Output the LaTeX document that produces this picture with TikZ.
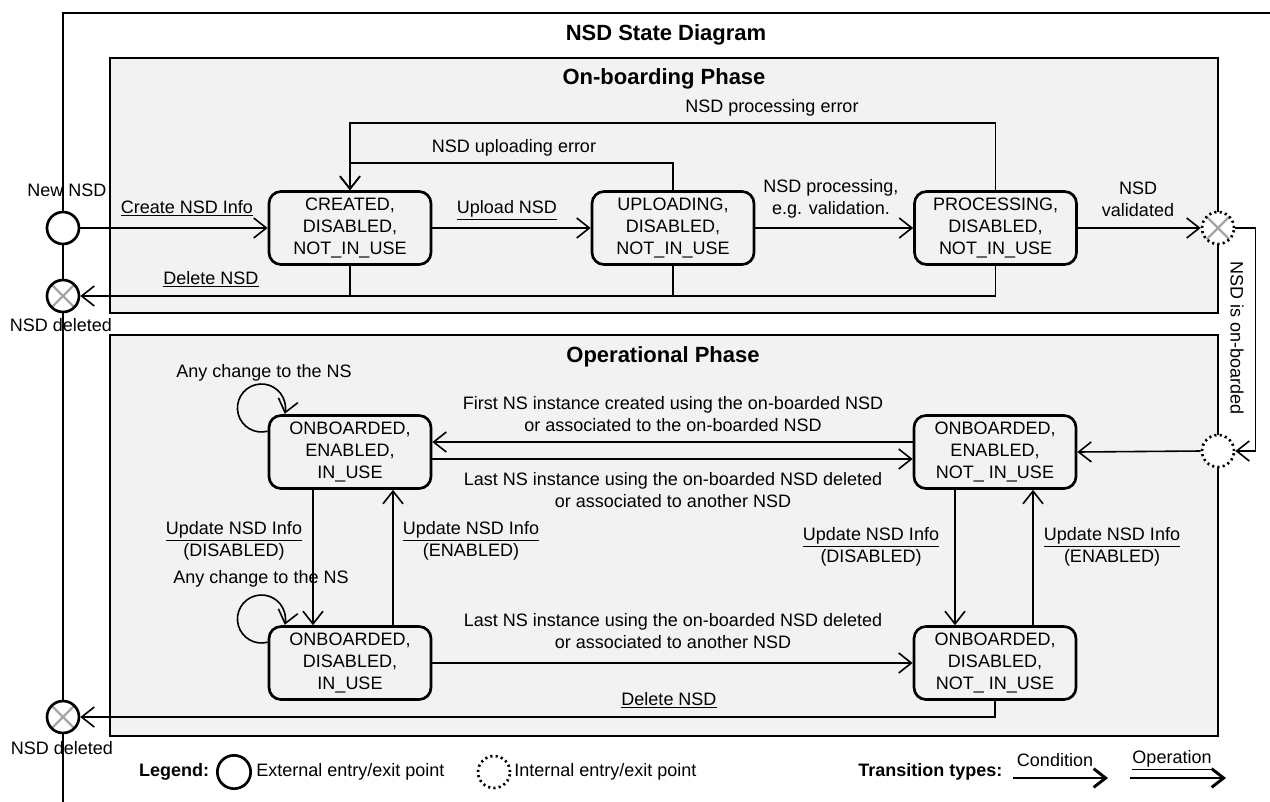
\documentclass[tikz,border=0pt]{standalone}
\usepackage{fontspec}
\setmainfont{Liberation Sans}
\usetikzlibrary{arrows.meta,calc}

\definecolor{phasegray}{HTML}{F2F2F2}
\definecolor{crossgray}{HTML}{A6A6A6}

\begin{document}
\begin{tikzpicture}[x=0.75pt,y=-0.75pt,
  every node/.style={font=\fontsize{13.5}{16.5}\selectfont},
  titletext/.style={font=\bfseries\fontsize{16.5}{19}\selectfont},
  boldtext/.style={font=\bfseries\fontsize{13.5}{16.5}\selectfont},
  phase/.style={draw, line width=1.3pt, fill=phasegray},
  state/.style={draw, line width=2pt, rounded corners=9pt, fill=phasegray,
    minimum width=121.5pt, minimum height=54.75pt, align=center, inner sep=0pt},
  flow/.style={line width=1.2pt},
  arr/.style={flow, -{Straight Barb[length=9.5pt,width=15pt,line width=1.2pt]}},
  legarr/.style={line width=2.2pt, -{Straight Barb[length=9pt,width=14pt,line width=2.2pt]}},
  extport/.style={circle, draw, line width=2pt, fill=white, minimum size=24pt, inner sep=0pt},
  intport/.style={circle, draw, line width=2pt, dash pattern=on 1.6pt off 2.4pt,
    fill=white, minimum size=24pt, inner sep=0pt},
  crossed/.style={path picture={
    \draw[crossgray, line width=1.8pt, solid]
      (path picture bounding box.north west) -- (path picture bounding box.south east)
      (path picture bounding box.north east) -- (path picture bounding box.south west);}},
  plain/.style={anchor=west, inner sep=0pt}
]
\path[use as bounding box] (0,0) rectangle (1270,801);
\clip (0,0) rectangle (1270,801);

% outer frame of the whole diagram
\draw[line width=1.3pt] (63,820) -- (63,13) -- (1290,13);
\node[titletext] at (666,35) {NSD State Diagram};

% phases
\draw[phase] (110,58) rectangle (1218,313);
\node[titletext] at (664,79) {On-boarding Phase};
\draw[phase] (110,335) rectangle (1218,736);
\node[titletext] at (663,357) {Operational Phase};

% states
\node[state] (created)    at (350,228)   {CREATED,\\DISABLED,\\NOT\_IN\_USE};
\node[state] (uploading)  at (673,228)   {UPLOADING,\\DISABLED,\\NOT\_IN\_USE};
\node[state] (processing) at (995.5,228) {PROCESSING,\\DISABLED,\\NOT\_IN\_USE};
\node[state] (enuse)      at (350,452)   {ONBOARDED,\\ENABLED,\\IN\_USE};
\node[state] (ennot)      at (995,452)   {ONBOARDED,\\ENABLED,\\NOT\_ IN\_USE};
\node[state] (disuse)     at (350,663)   {ONBOARDED,\\DISABLED,\\IN\_USE};
\node[state] (disnot)     at (995,663)   {ONBOARDED,\\DISABLED,\\NOT\_ IN\_USE};

% entry / exit points
\node[extport] (newnsd) at (63,228) {};
\node[extport, crossed] (delA) at (63,296) {};
\node[extport, crossed] (delB) at (63,717) {};
\node[intport, crossed] (valid) at (1218,228) {};
\node[intport] (onb) at (1218,451) {};

\node at (67,190) {New NSD};
\node at (61,325) {NSD deleted};
\node at (62,748) {NSD deleted};

% on-boarding transitions
\draw[arr] (newnsd.east) -- (created.west);
\node at (187,208) {\underline{Create NSD Info}};
\draw[arr] (created.east) -- (uploading.west);
\node at (507,210) {\underline{Upload NSD}};
\draw[arr] (uploading.east) -- (processing.west);
\node[align=center] at (831,199) {NSD processing,\\e.g. validation.};
\draw[arr] (processing.east) -- (valid.west);
\node[align=center] at (1138,199) {NSD\\validated};

\draw[arr] (processing.north) -- ++(0,-67) -| (created.north);
\node at (772,108) {NSD processing error};
\draw[arr] (uploading.north) -- ++(0,-27) -| (created.north);
\node at (514,148) {NSD uploading error};

\draw[flow] (created.south) -- (created.south |- delA.east);
\draw[flow] (uploading.south) -- (uploading.south |- delA.east);
\draw[arr] (processing.south) |- (delA.east);
\node at (211,279) {\underline{Delete NSD}};

% hand-over to the operational phase
\draw[arr] (valid.east) -- ++(20,0) |- (onb.east);
\node[rotate=-90] at (1237,338) {NSD is on-boarded};
\draw[arr] (onb.west) -- (ennot.east);

% operational transitions
\draw[arr] ($(ennot.west)+(0,-10)$) -- ($(enuse.east)+(0,-10)$);
\node[align=center] at (673,414) {First NS instance created using the on-boarded NSD\\or associated to the on-boarded NSD};
\draw[arr] ($(enuse.east)+(0,7)$) -- ($(ennot.west)+(0,7)$);
\node[align=center] at (673,490) {Last NS instance using the on-boarded NSD deleted\\or associated to another NSD};

\draw[arr] ($(enuse.south)+(-37,0)$) -- ($(disuse.north)+(-37,0)$);
\node[align=center] at (234,541) {\underline{Update NSD Info}\\(DISABLED)};
\draw[arr] ($(disuse.north)+(43,0)$) -- ($(enuse.south)+(43,0)$);
\node[align=center] at (471,541) {\underline{Update NSD Info}\\(ENABLED)};

\draw[arr] ($(ennot.south)+(-40,0)$) -- ($(disnot.north)+(-40,0)$);
\node[align=center] at (871,547) {\underline{Update NSD Info}\\(DISABLED)};
\draw[arr] ($(disnot.north)+(38,0)$) -- ($(ennot.south)+(38,0)$);
\node[align=center] at (1112,547) {\underline{Update NSD Info}\\(ENABLED)};

\draw[arr] (disuse.east) -- (disnot.west);
\node[align=center] at (673,631) {Last NS instance using the on-boarded NSD deleted\\or associated to another NSD};

\draw[arr] (disnot.south) |- (delB.east);
\node at (669,700) {\underline{Delete NSD}};

% self transitions
\draw[arr] ($(enuse.north west)+(0,17)$) arc[start angle=75, end angle=374, radius=24];
\node at (264,373) {Any change to the NS};
\draw[arr] ($(disuse.north west)+(0,17)$) arc[start angle=75, end angle=374, radius=24];
\node at (261,579) {Any change to the NS};

% legend
\node[boldtext] at (174,772) {Legend:};
\node[extport, minimum size=25pt] (legext) at (234,772) {};
\node[plain] at (256,772) {External entry/exit point};
\node[intport] (legint) at (494,772) {};
\node[plain] at (514,772) {Internal entry/exit point};
\node[boldtext, plain] at (858,772) {Transition types:};
\coordinate (condA) at (1013,778);
\coordinate (condB) at (1108,778);
\draw[legarr] (condA) -- (condB);
\node at (1055,760) {Condition};
\coordinate (opA) at (1130,778);
\coordinate (opB) at (1226,778);
\draw[legarr] (opA) -- (opB);
\node at (1172,760) {\underline{Operation}};
\end{tikzpicture}
\end{document}
